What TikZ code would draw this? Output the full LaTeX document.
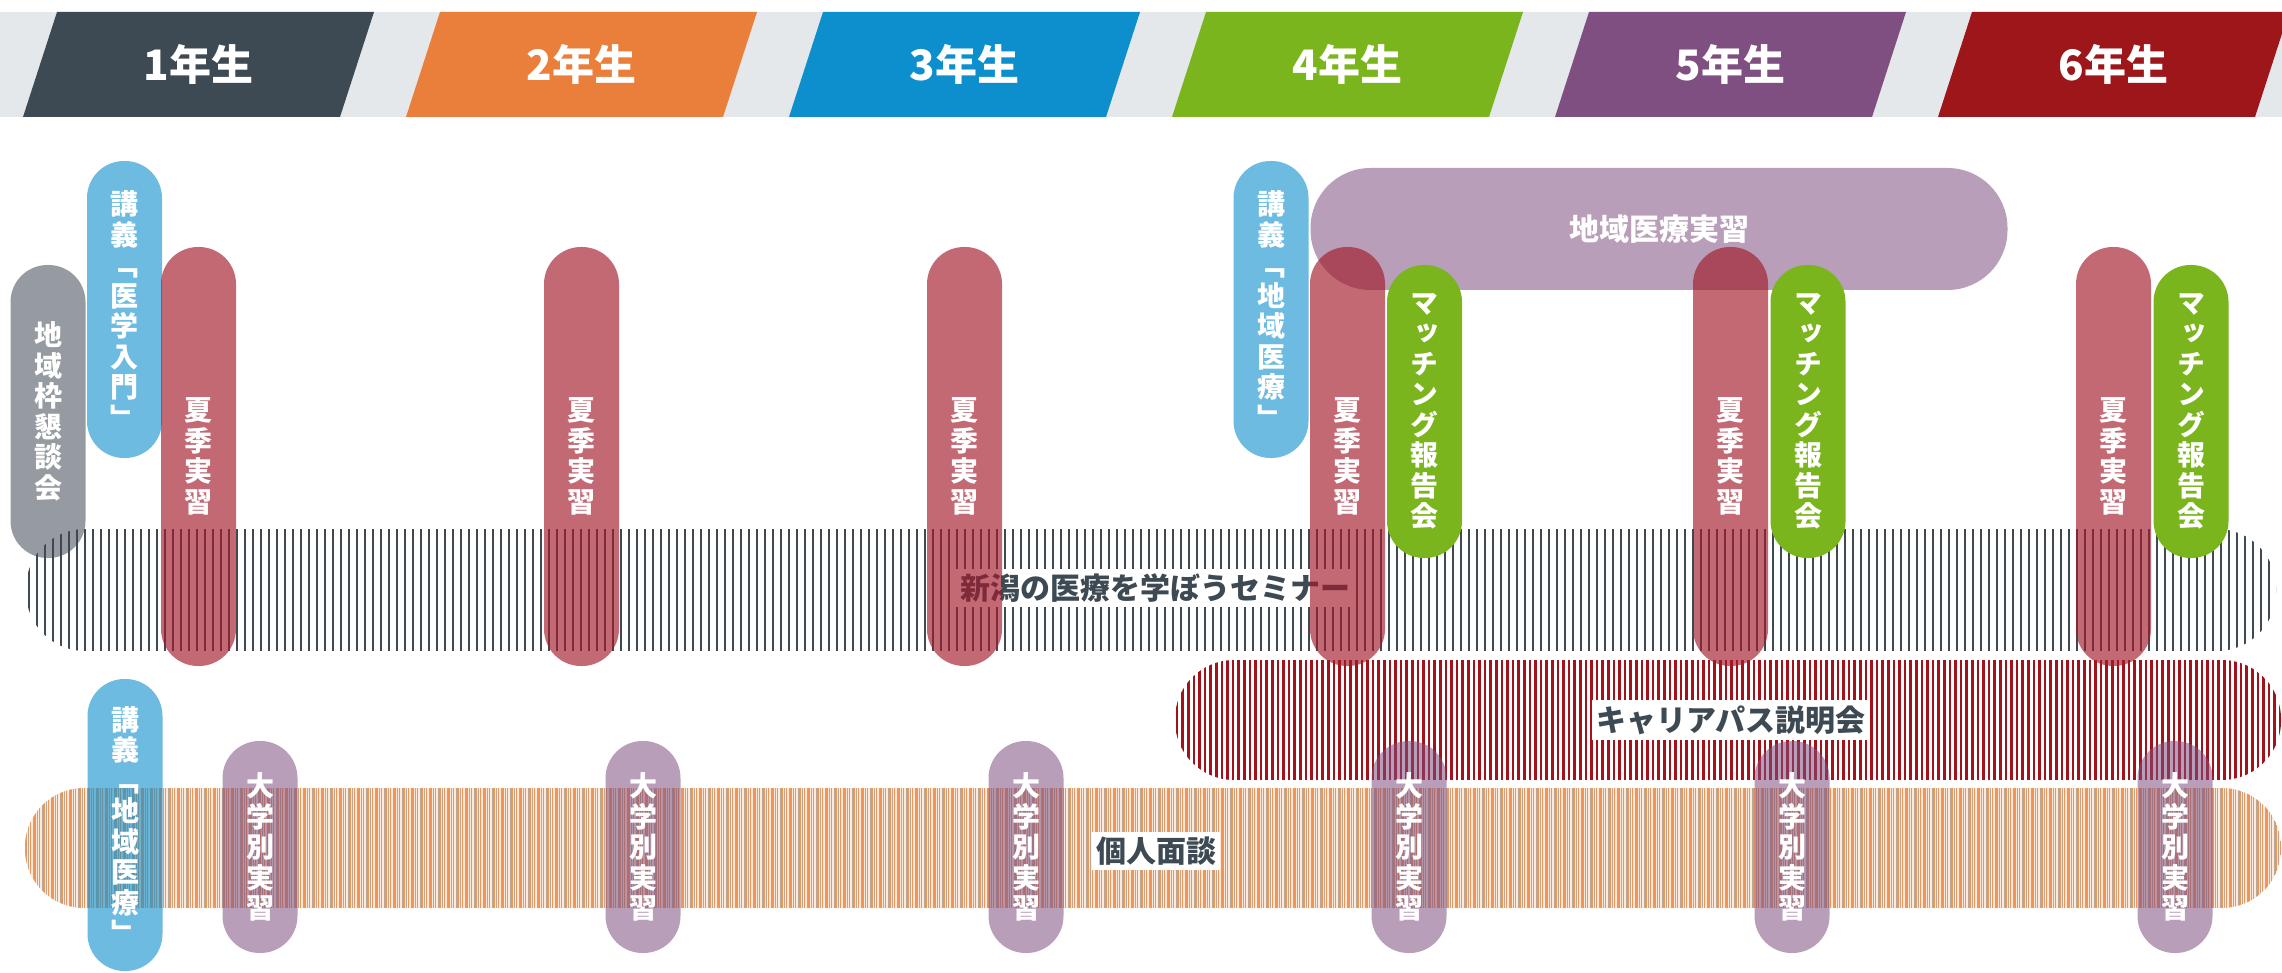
\documentclass[tikz,border=0pt]{standalone}
\usepackage{fontspec}
\newfontfamily\jp{Noto Sans CJK JP}
\newfontfamily\jpv{Noto Sans CJK JP}[RawFeature=+vert]
\definecolor{yA}{HTML}{3E4A53}
\definecolor{yB}{HTML}{EA7E3B}
\definecolor{yC}{HTML}{0D8FCD}
\definecolor{yD}{HTML}{7AB51D}
\definecolor{yE}{HTML}{7E4F80}
\definecolor{yF}{HTML}{9D1619}
\definecolor{hdrgray}{HTML}{E5E8EB}
\definecolor{pillred}{HTML}{A31A2A}
\definecolor{cream}{HTML}{FCEBDC}
\definecolor{orline}{HTML}{F0955A}
\definecolor{thinline}{HTML}{B8A898}
\definecolor{carred}{HTML}{A3111B}
\newcommand\vtfont{\jpv\bfseries\fontsize{28}{30.5}\selectfont}
\newcommand\hdfont{\jp\bfseries\fontsize{42}{42}\selectfont}
\newcommand\lbfont{\jp\bfseries\fontsize{30}{30}\selectfont}
\tikzset{
  hdrtext/.style={text=white, font=\hdfont, inner sep=0pt},
  vpill/.style={rounded corners=37pt, minimum width=75pt, inner sep=0pt,
    text=white, text opacity=1, align=center, font=\vtfont},
  band/.style={inner sep=0pt, rounded corners=59pt},
  semstripes/.style={path picture={
    \foreach \k in {0,...,285}{
      \draw[line width=1.6pt, yA]
        ([xshift={\k*8pt+3pt}]path picture bounding box.south west) --
        ([xshift={\k*8pt+3pt}]path picture bounding box.north west);}}},
  carstripes/.style={path picture={
    \foreach \k in {0,...,200}{
      \draw[line width=2.6pt, carred]
        ([xshift={\k*5.6pt+2pt}]path picture bounding box.south west) --
        ([xshift={\k*5.6pt+2pt}]path picture bounding box.north west);}}},
  intstripes/.style={fill=cream, path picture={
    \foreach \k in {0,...,505}{
      \draw[line width=1.8pt, orline]
        ([xshift={\k*4.5pt+1pt}]path picture bounding box.south west) --
        ([xshift={\k*4.5pt+1pt}]path picture bounding box.north west);
      \draw[line width=0.4pt, thinline]
        ([xshift={\k*4.5pt+3.2pt}]path picture bounding box.south west) --
        ([xshift={\k*4.5pt+3.2pt}]path picture bounding box.north west);}}},
  blabel/.style={fill=white, text=yA, font=\lbfont, inner xsep=4pt, inner ysep=5pt},
}
\begin{document}
\begin{tikzpicture}[x=1pt,y=-1pt]
\useasboundingbox (0,0) rectangle (2282,973);
\fill[white] (0,0) rectangle (2282,973);
\clip (0,0) rectangle (2282,973);
% header
\fill[hdrgray] (0,12) rectangle (2282,117);
\foreach \i/\col/\lab in {0/yA/1年生, 1/yB/2年生, 2/yC/3年生, 3/yD/4年生, 4/yE/5年生, 5/yF/6年生}{
  \pgfmathsetmacro\xa{57+383*\i}
  \fill[\col] (\xa,12) -- ++(317,0) -- ++(-34,105) -- ++(-317,0) -- cycle;
  \node[hdrtext] (h\i) at (\xa+141.5,64.5) {\lab};
}
% bands
\node[band, semstripes, minimum width=2250pt, minimum height=122pt] (sem) at (1151,590) {};
\node[band, carstripes, minimum width=1106pt, minimum height=120pt] (car) at (1728,720) {};
\node[band, intstripes, minimum width=2256pt, minimum height=120pt] (int) at (1153,848) {};
\node[blabel] (semlab) at (1155,588) {新潟の医療を学ぼうセミナー};
\node[blabel] (carlab) at (1731,720) {キャリアパス説明会};
\node[blabel] (intlab) at (1156,851) {個人面談};
% wide purple
\node[rounded corners=60pt, minimum width=697pt, minimum height=122pt, inner sep=0pt,
  fill=yE, fill opacity=0.55, text opacity=1, text=white, font=\lbfont] (chiikijisshu) at (1659,229) {地域医療実習};
% gray & blue pills
\node[vpill, fill=yA, fill opacity=0.55, minimum height=293pt] (kondan) at (48,411.5) {地\\域\\枠\\懇\\談\\会};
\node[vpill, fill=yC, fill opacity=0.6, minimum height=297pt] (igaku) at (124.5,309.5) {講\\義\\﹁\\医\\学\\入\\門\\﹂};
\node[vpill, fill=yC, fill opacity=0.6, minimum height=297pt] (chiikiA) at (1271,309.5) {講\\義\\﹁\\地\\域\\医\\療\\﹂};
\node[vpill, fill=yC, fill opacity=0.6, minimum height=292pt] (chiikiB) at (125,825) {講\\義\\﹁\\地\\域\\医\\療\\﹂};
% red summer pills
\foreach \i in {0,...,5}{
  \node[vpill, fill=pillred, fill opacity=0.65, minimum height=419pt] (kaki\i) at (198.5+383*\i,456.5) {夏\\季\\実\\習};
}
% green pills
\foreach \i/\xx in {0/1424.5, 1/1808, 2/2191}{
  \node[vpill, fill=yD, minimum height=293pt] (match\i) at (\xx,411.5) {マ\\ッ\\チ\\ン\\グ\\報\\告\\会};
}
% purple small pills
\foreach \i in {0,...,5}{
  \node[vpill, fill=yE, fill opacity=0.55, minimum height=212pt] (daigaku\i) at (260+383*\i,847) {大\\学\\別\\実\\習};
}
\end{tikzpicture}
\end{document}
